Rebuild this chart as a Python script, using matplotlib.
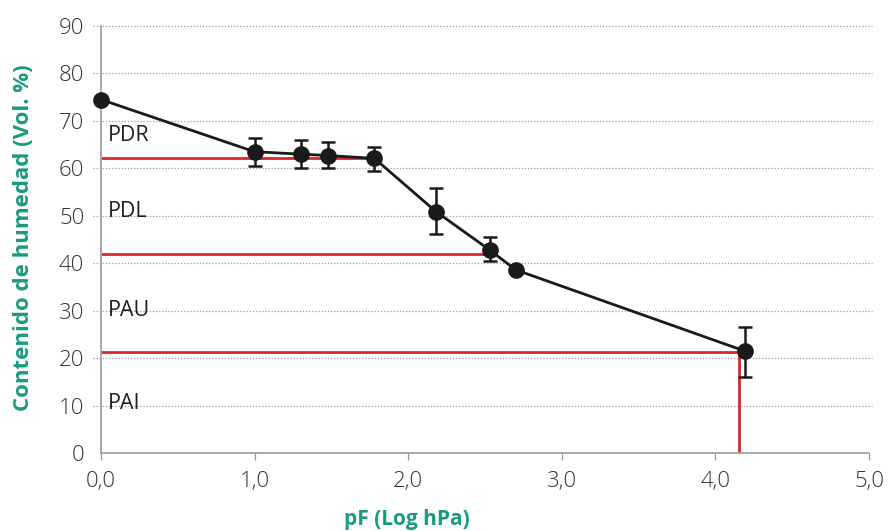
import matplotlib
matplotlib.use("Agg")
import matplotlib.pyplot as plt
import matplotlib.font_manager as fm

pf = [0.0, 1.0, 1.3, 1.48, 1.78, 2.18, 2.53, 2.7, 4.19]
moisture = [74.5, 63.5, 63.0, 62.7, 62.1, 50.9, 42.8, 38.6, 21.5]
err_low = [0, 3.1, 3.0, 2.7, 2.6, 4.8, 2.3, 0, 5.4]
err_high = [0, 2.9, 3.0, 2.8, 2.3, 5.0, 2.8, 0, 5.1]
has_err = [False, True, True, True, True, True, True, False, True]

zones = ["PDR", "PDL", "PAU", "PAI"]
zone_y = [67.0, 50.8, 30.1, 10.4]
limits_y = [62.2, 42.0, 21.2]
limits_x = [1.78, 2.5, 4.15]

xticks = [0, 1, 2, 3, 4, 5]
xticklabels = ["0,0", "1,0", "2,0", "3,0", "4,0", "5,0"]
yticks = [0, 10, 20, 30, 40, 50, 60, 70, 80, 90]

names = {f.name for f in fm.fontManager.ttflist}
fam = "Open Sans" if "Open Sans" in names else "DejaVu Sans"
plt.rcParams['font.family'] = [fam, 'DejaVu Sans']

RED = "#d8262f"
TEAL = "#1a9a80"
GRAY = "#9a9a9a"

fig = plt.figure(figsize=(8.88, 5.31), dpi=100)
ax = fig.add_axes([0.1137, 0.1469, 0.865, 0.8041])

for y in yticks[1:]:
    ax.plot([-0.05, 5.02], [y, y], color="#9a9a9a", lw=0.9, ls=(0, (1, 1.5)),
            zorder=0, clip_on=False)

for yv, xv in zip(limits_y, limits_x):
    ax.plot([0, xv], [yv, yv], color=RED, lw=2.0, zorder=2, solid_capstyle='butt')
ax.plot([limits_x[-1], limits_x[-1]], [limits_y[-1], 0], color=RED, lw=2.0, zorder=2, solid_capstyle='butt')

ax.plot(pf, moisture, color="#1a1a1a", lw=2.0, zorder=3)
ex = [p for p, h in zip(pf, has_err) if h]
ey = [m for m, h in zip(moisture, has_err) if h]
el = [e for e, h in zip(err_low, has_err) if h]
eh = [e for e, h in zip(err_high, has_err) if h]
ax.errorbar(ex, ey, yerr=[el, eh], fmt="none", ecolor="#1a1a1a", elinewidth=1.8,
            capsize=5, capthick=1.8, zorder=4)
ax.plot(pf, moisture, "o", color="#1a1a1a", ms=11, zorder=5, clip_on=False)

for z, y in zip(zones, zone_y):
    ax.text(0.045, y, z, fontsize=15.5, color="#1e1e1e", va="center", ha="left",
            fontweight="normal", zorder=6)

ax.set_xlim(0, 5.0)
ax.set_ylim(0, 90)
ax.set_xticks(xticks)
ax.set_xticklabels(xticklabels)
ax.set_yticks(yticks)
for s in ["top", "right"]:
    ax.spines[s].set_visible(False)
for s in ["left", "bottom"]:
    ax.spines[s].set_color(GRAY)
    ax.spines[s].set_linewidth(1.2)
ax.tick_params(axis="y", length=0, labelsize=16, labelcolor="#333333", pad=12)
ax.tick_params(axis="x", length=5, width=0.9, color=GRAY, labelsize=16, labelcolor="#333333", pad=8)
for lab in ax.get_xticklabels() + ax.get_yticklabels():
    lab.set_fontweight("light")

fig.text(0.458, 0.022, "pF (Log hPa)", color=TEAL, fontsize=15, fontweight="bold",
         ha="center", va="center")
fig.text(0.026, 0.553, "Contenido de humedad (Vol. %)", color=TEAL, fontsize=16,
         fontweight="bold", rotation=90, ha="center", va="center")

fig.savefig("out.png", dpi=100)
